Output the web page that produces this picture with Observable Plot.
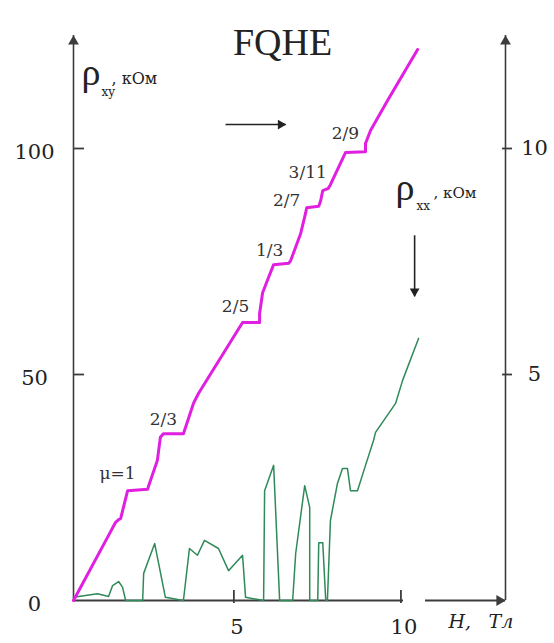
<!DOCTYPE html>
<html><head><meta charset="utf-8">
<script src="https://cdn.jsdelivr.net/npm/d3@7"></script>
<script src="https://cdn.jsdelivr.net/npm/@observablehq/plot@0.6"></script>
<style>body{margin:0;background:#fff}</style>
</head><body><div id="chart"></div>
<script>
// Magnetic field H, Tл  and Hall resistance rho_xy, kΩ (left axis)
const rxyH   = [0.2,1.25,1.46,1.55,1.61,1.82,2.42,2.45,2.71,2.80,2.89,3.49,3.79,3.94,5.26,5.77,5.77,5.86,6.04,6.19,6.64,6.70,7.00,7.15,7.18,7.54,7.60,7.66,7.83,7.89,8.34,8.94,8.94,9.09,9.60,10.50];
const rxyVal = [0,14.4,17.3,17.9,18.1,24.3,24.6,25.4,31.0,36.1,36.9,36.9,43.6,45.8,61.5,61.5,63.5,68.1,71.5,74.3,74.6,75.2,81.2,85.8,86.9,87.2,88.5,90.7,91.2,92.0,99.1,99.3,101.1,104.0,110.6,121.9];
// Longitudinal resistance rho_xx, kΩ (right axis)
const rxxH   = [0.2,0.56,0.92,1.25,1.37,1.55,1.67,1.76,2.27,2.30,2.63,2.95,3.49,3.67,3.91,4.12,4.54,4.84,5.26,5.35,5.89,5.92,6.19,6.37,6.76,6.85,7.12,7.27,7.27,7.51,7.54,7.66,7.75,7.80,7.89,8.10,8.25,8.40,8.49,8.70,8.94,9.18,9.24,9.69,9.84,10.05,10.53];
const rxxVal = [0.07,0.11,0.15,0.09,0.33,0.42,0.29,0,0,0.60,1.26,0.07,0,1.15,1.00,1.33,1.15,0.66,1.00,0.07,0,2.43,2.99,0,0,1.04,2.54,2.06,0,0,1.28,1.28,0,0,1.77,2.59,2.92,2.92,2.43,2.43,2.99,3.54,3.72,4.20,4.36,4.87,5.80];
// Filling-factor labels of the plateaus
const nuLabels = ["μ=1","2/3","2/5","1/3","2/7","3/11","2/9"];
const nuH      = [1.52,2.89,5.05,6.07,6.58,7.21,8.34];
const nuR      = [28.1,40.0,65.0,77.4,88.5,94.7,103.3];
// Axis ticks
const leftTicks  = [0,50,100];
const leftMarks  = [50,100];
const rightTicks = [5,10];
const xTicks     = [5,10];
const xDomain = [0.2,13.13];
const yDomain = [0,125];
const rxxFactor = 10; // right axis = left axis / 10
// Pointer arrows (H from, H to, rho from, rho to)
const pointerH1 = [4.75,10.41];
const pointerH2 = [6.55,10.41];
const pointerR1 = [105.3,80.8];
const pointerR2 = [105.3,67.3];

const rxy = rxyH.map((h,i)=>({h, r: rxyVal[i]}));
const rxx = rxxH.map((h,i)=>({h, r: rxxVal[i]*rxxFactor}));
const nu = nuLabels.map((t,i)=>({t, h: nuH[i], r: nuR[i]}));
const pointers = pointerH1.map((h,i)=>({h1:h, h2:pointerH2[i], r1:pointerR1[i], r2:pointerR2[i]}));

const serif = "DejaVu Serif, serif";
const tserif = "Liberation Serif, serif";
const ax = "#3c3c3c";
const xmin = xDomain[0], xmax = xDomain[1], ytop = yDomain[1];
const W = 554, H = 643, mL = 73, mR = 49, mT = 35, mB = 43;
const fw = W - mL - mR, fh = H - mT - mB;

const chart = Plot.plot({
  width: W, height: H,
  marginLeft: mL, marginRight: mR, marginTop: mT, marginBottom: mB,
  x: {domain: xDomain, axis: null},
  y: {domain: yDomain, axis: null},
  style: {background: "white", overflow: "visible"},
  marks: [
    // axis lines
    Plot.ruleX([xmin], {stroke: ax, strokeWidth: 1.6}),
    Plot.ruleX([xmax], {stroke: ax, strokeWidth: 1.6}),
    Plot.ruleY([0], {stroke: ax, strokeWidth: 1.8, insetRight: 102}),
    Plot.ruleY([0], {stroke: ax, strokeWidth: 1.8, insetLeft: 352}),
    // arrowheads of the axes
    Plot.dot([0], {x: xmin, y: ytop, symbol: "triangle", r: 4, fill: ax, stroke: "none", dy: 6}),
    Plot.dot([0], {x: xmax, y: ytop, symbol: "triangle", r: 4, fill: ax, stroke: "none", dy: 6}),
    Plot.dot([0], {x: xmax, y: 0, symbol: "triangle", r: 4, fill: ax, stroke: "none", dx: -6, rotate: 90}),
    // tick marks
    Plot.tickY(leftMarks, {y: d=>d, stroke: ax, strokeWidth: 1.8, insetLeft: 0, insetRight: fw - 11}),
    Plot.tickY(rightTicks, {y: d=>d*rxxFactor, stroke: ax, strokeWidth: 1.8, insetLeft: fw - 3, insetRight: -7}),
    Plot.tickX(xTicks, {x: d=>d, stroke: ax, strokeWidth: 1.8, insetTop: fh - 10, insetBottom: -3}),
    // tick labels
    Plot.text(leftTicks, {x: xmin, y: d=>d, text: d=>String(d), dx: -39, dy: 4, fontSize: 21, fontFamily: serif, fill: "#222"}),
    Plot.text(rightTicks, {x: xmax, y: d=>d*rxxFactor, text: d=>String(d), dx: 29, fontSize: 21, fontFamily: serif, fill: "#222"}),
    Plot.text(xTicks, {x: d=>d, y: 0, text: d=>String(d), dx: 3, dy: 27, fontSize: 21, fontFamily: serif, fill: "#222"}),
    Plot.text(["H,"], {frameAnchor: "bottom-right", dx: -57, dy: 27, textAnchor: "start", fontSize: 19, fontStyle: "italic", fontFamily: serif, fill: "#222"}),
    Plot.text(["Tл"], {frameAnchor: "bottom-right", dx: -17, dy: 27, textAnchor: "start", fontSize: 19, fontStyle: "italic", fontFamily: serif, fill: "#222"}),
    // title
    Plot.text(["FQHE"], {frameAnchor: "top", dx: -7, dy: -7, fontSize: 38, fontFamily: tserif, fill: "#222"}),
    // rho_xy axis label
    Plot.text(["ρ"], {frameAnchor: "top-left", dx: 8, dy: 49, textAnchor: "start", lineAnchor: "bottom", fontSize: 38, fontFamily: tserif, fill: "#222"}),
    Plot.text(["xy"], {frameAnchor: "top-left", dx: 28, dy: 60, textAnchor: "start", lineAnchor: "bottom", fontSize: 12, fontFamily: serif, fill: "#222"}),
    Plot.text([", кОм"], {frameAnchor: "top-left", dx: 38, dy: 48, textAnchor: "start", lineAnchor: "bottom", fontSize: 16, letterSpacing: "4px", fontFamily: serif, fill: "#222"}),
    // rho_xx axis label
    Plot.text(["ρ"], {frameAnchor: "top-right", dx: -110, dy: 164, textAnchor: "start", lineAnchor: "bottom", fontSize: 38, fontFamily: tserif, fill: "#222"}),
    Plot.text(["xx"], {frameAnchor: "top-right", dx: -89, dy: 174, textAnchor: "start", lineAnchor: "bottom", fontSize: 12, fontFamily: serif, fill: "#222"}),
    Plot.text([", кОм"], {frameAnchor: "top-right", dx: -72, dy: 162, textAnchor: "start", lineAnchor: "bottom", fontSize: 15, letterSpacing: "1px", fontFamily: serif, fill: "#222"}),
    // pointer arrows
    Plot.link(pointers, {x1: "h1", x2: "h2", y1: "r1", y2: "r2", stroke: "#222", strokeWidth: 1.6}),
    Plot.dot(pointers.slice(0,1), {x: "h2", y: "r2", symbol: "triangle", r: 3.6, fill: "#222", stroke: "none", rotate: 90, dx: -5}),
    Plot.dot(pointers.slice(1,2), {x: "h2", y: "r2", symbol: "triangle", r: 3.6, fill: "#222", stroke: "none", rotate: 180, dy: -5}),
    // data
    Plot.line(rxx, {x: "h", y: "r", stroke: "#2e8a58", strokeWidth: 1.5}),
    Plot.line(rxy, {x: "h", y: "r", stroke: "#e01fe0", strokeWidth: 3}),
    // filling-factor labels
    Plot.text(nu, {x: "h", y: "r", text: "t", fontSize: 17, fontFamily: serif, fill: "#333"})
  ]
});
document.getElementById("chart").appendChild(chart);
</script>
</body></html>
